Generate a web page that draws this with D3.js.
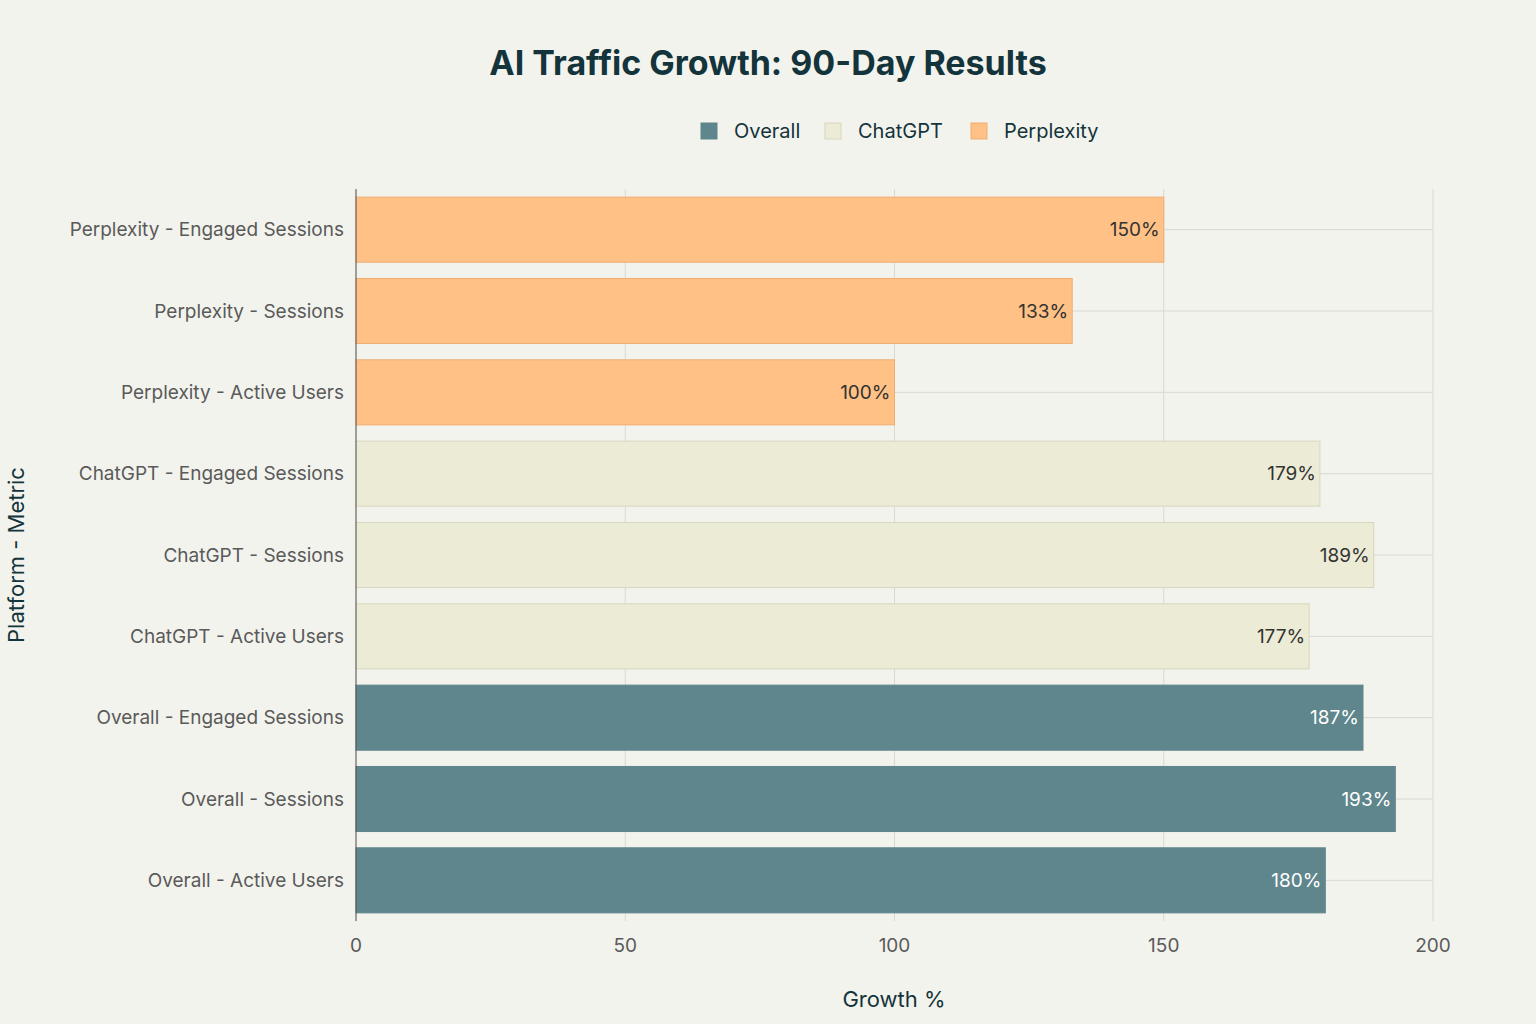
<!DOCTYPE html>
<html><head><meta charset="utf-8">
<script src="https://cdn.jsdelivr.net/npm/d3@7"></script>
<style>body{margin:0;background:#f3f3ee;font-family:Inter,"Noto Sans",sans-serif}</style>
</head><body><svg id="chart"></svg>
<script>
const categories = ['Overall - Active Users','Overall - Sessions','Overall - Engaged Sessions',
  'ChatGPT - Active Users','ChatGPT - Sessions','ChatGPT - Engaged Sessions',
  'Perplexity - Active Users','Perplexity - Sessions','Perplexity - Engaged Sessions'];
const platforms = ['Overall','Overall','Overall','ChatGPT','ChatGPT','ChatGPT','Perplexity','Perplexity','Perplexity'];
const values = [180,193,187,177,189,179,100,133,150];
const xTicks = [0,50,100,150,200];
const legendNames = ['Overall','ChatGPT','Perplexity'];
const colors = {Overall:'#5e868c', ChatGPT:'#ecebd5', Perplexity:'#ffc185'};
const strokes = {Overall:'#5e868c', ChatGPT:'#d8d6bd', Perplexity:'#f0ac70'};

const W=1536,H=1024, plotLeft=356, plotRight=1433, plotTop=189, plotBottom=921;
const svg=d3.select('#chart').attr('width',W).attr('height',H);
svg.append('rect').attr('width',W).attr('height',H).attr('fill','#f3f3ee');

const x=d3.scaleLinear().domain([0,200]).range([plotLeft,plotRight]);
const y=d3.scaleBand().domain(categories.slice().reverse()).range([plotTop,plotBottom]).paddingInner(0.2).paddingOuter(0.1);

const g=svg.append('g');
// grid
g.selectAll('.vg').data(xTicks).enter().append('line')
  .attr('x1',d=>x(d)).attr('x2',d=>x(d)).attr('y1',plotTop).attr('y2',plotBottom)
  .attr('stroke','#d9d9d2').attr('stroke-width',1);
g.selectAll('.hg').data(categories).enter().append('line')
  .attr('x1',plotLeft).attr('x2',plotRight).attr('y1',d=>y(d)+y.bandwidth()/2).attr('y2',d=>y(d)+y.bandwidth()/2)
  .attr('stroke','#d9d9d2');

const data=categories.map((c,i)=>({c,p:platforms[i],v:values[i]}));
g.selectAll('.bar').data(data).enter().append('rect')
  .attr('x',x(0)).attr('y',d=>y(d.c)).attr('width',d=>x(d.v)-x(0)).attr('height',y.bandwidth())
  .attr('fill',d=>colors[d.p]).attr('stroke',d=>strokes[d.p]).attr('stroke-width',1);
g.selectAll('.lbl').data(data).enter().append('text')
  .attr('x',d=>x(d.v)-4).attr('y',d=>y(d.c)+y.bandwidth()/2).attr('dy','0.35em')
  .attr('text-anchor','end').attr('font-size',19)
  .attr('fill',d=>d.p==='Overall'?'#ffffff':'#333')
  .text(d=>d.v+'%');

g.append('line').attr('x1',plotLeft).attr('x2',plotLeft).attr('y1',plotTop).attr('y2',plotBottom).attr('stroke','#555');

// y labels
g.selectAll('.yl').data(categories).enter().append('text')
  .attr('x',plotLeft-12).attr('y',d=>y(d)+y.bandwidth()/2).attr('dy','0.35em')
  .attr('text-anchor','end').attr('font-size',19).attr('fill','#5a5a5a').text(d=>d);
// x labels
g.selectAll('.xl').data(xTicks).enter().append('text')
  .attr('x',d=>x(d)).attr('y',952).attr('text-anchor','middle')
  .attr('font-size',19).attr('fill','#5a5a5a').text(d=>d);

svg.append('text').attr('x',894).attr('y',1007).attr('text-anchor','middle')
  .attr('font-size',22).attr('fill','#13343b').text('Growth %');
svg.append('text').attr('transform','translate(24,555) rotate(-90)').attr('text-anchor','middle')
  .attr('font-size',22).attr('fill','#13343b').text('Platform - Metric');
svg.append('text').attr('x',768).attr('y',75).attr('text-anchor','middle')
  .attr('font-size',34).attr('font-weight','bold').attr('fill','#13343b').text('AI Traffic Growth: 90-Day Results');

const lx=[701,825,971];
const lg=svg.selectAll('.lg').data(legendNames).enter().append('g')
  .attr('transform',(d,i)=>`translate(${lx[i]},123)`);
lg.append('rect').attr('width',16).attr('height',16).attr('fill',d=>colors[d]).attr('stroke',d=>strokes[d]);
lg.append('text').attr('x',33).attr('y',8).attr('dy','0.35em').attr('font-size',20).attr('fill','#13343b').text(d=>d);
</script></body></html>
